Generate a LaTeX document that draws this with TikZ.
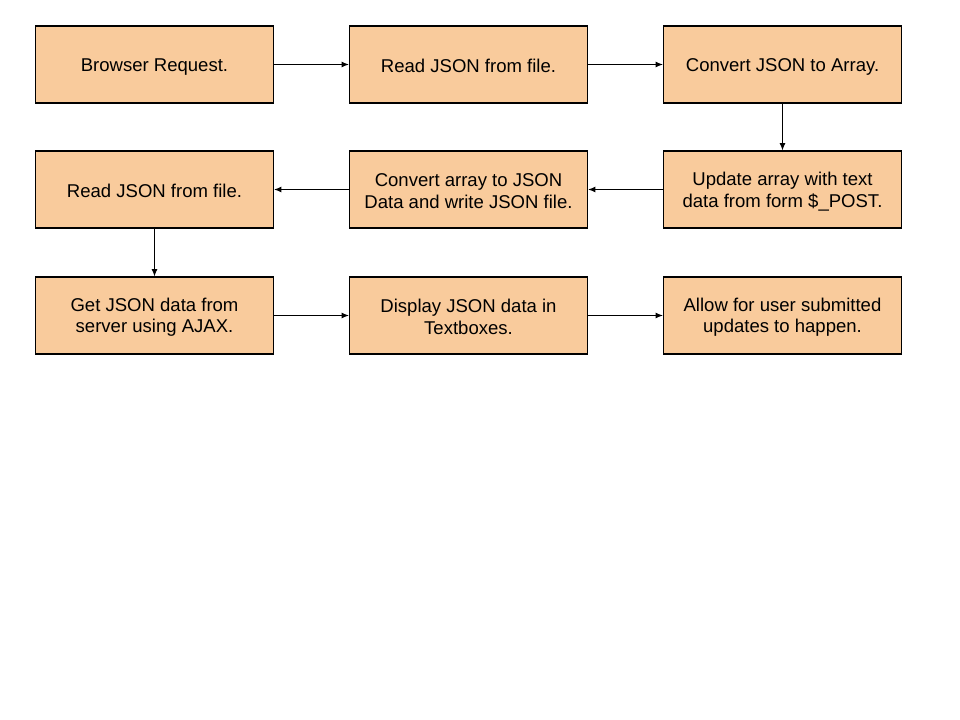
\documentclass[tikz,border=0pt]{standalone}
\usepackage{fontspec}
\setmainfont{Liberation Sans}
\usetikzlibrary{arrows.meta}
\definecolor{boxfill}{HTML}{F9CB9C}
\newcommand{\ms}{\rule[-0.8pt]{0pt}{13.8pt}}
\begin{document}
\begin{tikzpicture}[x=0.75pt,y=-0.75pt,
  stepbox/.style={draw=black, line width=0.9pt, fill=boxfill, minimum width=238*0.75pt, minimum height=77*0.75pt, inner sep=0pt, align=center, font=\fontsize{13.9pt}{15.8pt}\selectfont},
  conn/.style={draw=black, line width=0.75pt, -{Latex[length=5.5pt,width=4.5pt]}}]
\useasboundingbox (0,0) rectangle (960,720);
\node[stepbox] (a) at (154.5,64.5) {\ms Browser Request.};
\node[stepbox] (b) at (468.5,64.5) {\ms Read JSON from file.};
\node[stepbox] (c) at (782.5,64.5) {\ms Convert JSON to Array.};
\node[stepbox] (d) at (782.5,189.5) {\ms Update array with text\\\ms data from form \$\_POST.};
\node[stepbox] (e) at (468.5,189.5) {\ms Convert array to JSON\\\ms Data and write JSON file.};
\node[stepbox] (f) at (154.5,189.5) {\ms Read JSON from file.};
\node[stepbox] (g) at (154.5,315.5) {\ms Get JSON data from\\\ms server using AJAX.};
\node[stepbox] (h) at (468.5,315.5) {\ms Display JSON data in\\\ms Textboxes.};
\node[stepbox] (i) at (782.5,315.5) {\ms Allow for user submitted\\\ms updates to happen.};
\draw[conn] (a) -- (b);
\draw[conn] (b) -- (c);
\draw[conn] (c) -- (d);
\draw[conn] (d) -- (e);
\draw[conn] (e) -- (f);
\draw[conn] (f) -- (g);
\draw[conn] (g) -- (h);
\draw[conn] (h) -- (i);
\end{tikzpicture}
\end{document}
